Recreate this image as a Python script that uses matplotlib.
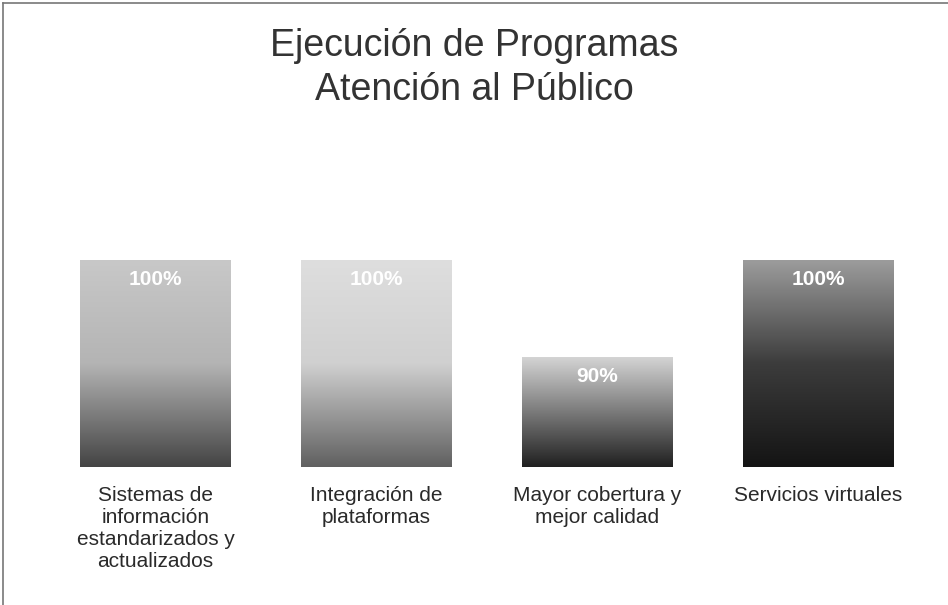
import numpy as np
import matplotlib.pyplot as plt
from matplotlib.colors import LinearSegmentedColormap
from matplotlib.lines import Line2D

# ==========================
# DATA
# ==========================

categories = [
    "Sistemas de\ninformación\nestandarizados y\nactualizados",
    "Integración de\nplataformas",
    "Mayor cobertura y\nmejor calidad",
    "Servicios virtuales",
]
ejecucion = [100, 100, 90, 100]
labels = ["100%", "100%", "90%", "100%"]

# gradient stops (top -> bottom) for each bar
shades = [
    ["#c8c8c8", "#b4b4b4", "#444444"],
    ["#dedede", "#d0d0d0", "#606060"],
    ["#d4d4d4", "#7a7a7a", "#202020"],
    ["#9c9c9c", "#3c3c3c", "#141414"],
]

plt.rcParams["font.family"] = ["Liberation Sans", "DejaVu Sans"]

FLOOR = 78.7

# ==========================
# FIGURE
# ==========================

fig = plt.figure(figsize=(9.48, 6.05), dpi=100)
fig.patch.set_facecolor("white")

ax = fig.add_axes([45 / 948, (605 - 467) / 605, 884 / 948, 330 / 605])
ax.axis("off")

x = np.arange(len(categories))
heights = [v - FLOOR for v in ejecucion]
bars = ax.bar(x, heights, width=0.68, bottom=FLOOR, color="none",
              edgecolor="none")

grad = np.linspace(0, 1, 256).reshape(-1, 1)
for i, b in enumerate(bars):
    cmap = LinearSegmentedColormap.from_list("bar%d" % i, shades[i])
    x0 = b.get_x()
    x1 = x0 + b.get_width()
    y0 = b.get_y()
    y1 = y0 + b.get_height()
    im = ax.imshow(grad, cmap=cmap, aspect="auto",
                   extent=(x0, x1, y0, y1), origin="upper", zorder=2)
    im.set_clip_path(b)

    # value label near the top of the bar
    ax.annotate(labels[i], (x[i], ejecucion[i]), xytext=(0, -14),
                textcoords="offset points", ha="center", va="center",
                color="white", fontsize=15, fontweight="bold", zorder=4)

    # category name under the bar
    ax.annotate(categories[i], (x[i], FLOOR), xytext=(0, -14),
                textcoords="offset points", ha="center", va="top",
                fontsize=15, color="#2a2a2a", linespacing=1.2)

ax.set_xlim(-0.5, 3.5)
ax.set_ylim(FLOOR, 112.7)

# ==========================
# TITLE
# ==========================

fig.text(0.5, 1 - 68 / 605, "Ejecución de Programas\nAtención al Público",
         ha="center", va="center", fontsize=27, color="#333333",
         linespacing=1.25)

# page frame lines
fig.add_artist(Line2D([3 / 948, 3 / 948], [0, 1 - 3 / 605],
                      color="#777777", lw=1.2))
fig.add_artist(Line2D([3 / 948, 1], [1 - 3 / 605, 1 - 3 / 605],
                      color="#777777", lw=1.2))

plt.savefig("out.png", dpi=100)
plt.close()
